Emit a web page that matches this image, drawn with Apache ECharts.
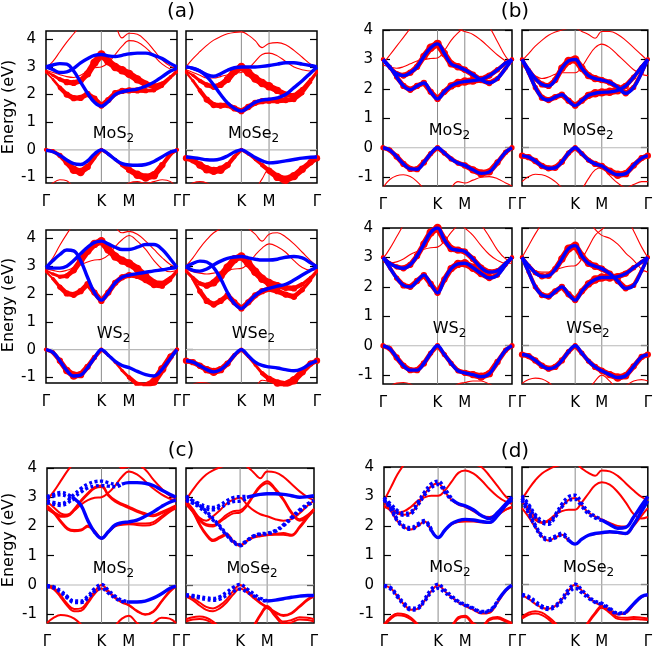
<!DOCTYPE html>
<html>
<head>
<meta charset="utf-8">
<title>TMD band structures</title>
<style>
  html, body, #chart { width: 655px; height: 650px; margin: 0; padding: 0; background: #fff; }
</style>
</head>
<body>
<div id="chart"></div>
<script src="https://cdn.jsdelivr.net/npm/echarts@6/dist/echarts.min.js"></script>
<script>
var _ = null;
// k path G-K-M-G, in units of |GK|
var kpts = [0, 0.125, 0.25, 0.375, 0.5, 0.625, 0.75, 0.875, 1, 1.125, 1.25, 1.375, 1.5, 1.65, 1.8, 1.95, 2.1, 2.25, 2.366];
var symPos = [0, 1, 1.5, 2.366];
var symNames = ['Γ', 'K', 'M', 'Γ'];
var eTicks = [-1, 0, 1, 2, 3, 4];

// ---- (a) ----
var aMoS2_blue = [
  [3.0, 3.07, 3.12, 3.1, 2.85, 2.45, 2.05, 1.72, 1.58, 1.75, 2.0, 2.1, 2.15, 2.2, 2.3, 2.45, 2.65, 2.85, 2.95],
  [3.0, 2.9, 2.8, 2.82, 2.95, 3.15, 3.3, 3.42, 3.45, 3.4, 3.38, 3.42, 3.47, 3.5, 3.5, 3.42, 3.3, 3.12, 3.0],
  [-0.02, -0.07, -0.2, -0.37, -0.5, -0.53, -0.4, -0.15, 0, -0.15, -0.35, -0.5, -0.55, -0.56, -0.53, -0.42, -0.25, -0.08, -0.02]
];
var aMoS2_red = [
  [2.95, 3.2, 3.55, 3.9, 4.2, 4.5, 4.7, 4.8, 4.8, 4.7, 4.5, 4.05, 4.22, 4.18, 3.95, 3.6, 3.25, 3.02, 2.95],
  [2.88, 2.8, 2.72, 2.65, 2.62, 2.7, 2.85, 2.97, 3.0, 3.15, 3.45, 3.75, 3.95, 3.9, 3.7, 3.4, 3.1, 2.92, 2.88],
  [-1.45, -1.2, -1.08, -1.12, -1.35, -1.6, -1.8, -1.9, -2.0, -1.9, -1.6, -1.35, -1.2, -1.15, -1.22, -1.15, -1.08, -1.15, -1.4]
];
var aMoS2_dot = [
  [2.8, 2.55, 2.25, 2.0, 1.87, 1.88, 2.02, 1.85, 1.6, 1.8, 2.05, 2.13, 2.15, 2.15, 2.14, 2.15, 2.3, 2.6, 2.8],
  [2.85, 2.7, 2.55, 2.45, 2.42, 2.5, 2.75, 3.15, 3.45, 3.2, 3.0, 2.88, 2.75, 2.55, 2.38, 2.3, 2.4, 2.65, 2.88],
  [0, -0.05, -0.2, -0.45, -0.72, -0.8, -0.62, -0.28, 0, -0.15, -0.35, -0.55, -0.72, -0.9, -1.0, -0.92, -0.55, -0.15, 0]
];
var aMoS2_w = [
  [1, 1, 2, 3, 3, 3, 3, 3, 3, 3, 3, 3, 3, 3, 2.5, 2, 1.5, 1, 1],
  [1, 1.5, 2, 3, 3, 3, 3.5, 4, 4, 4, 4, 4, 4, 4, 3.5, 3, 2, 1.5, 1],
  [2, 2, 2.5, 3, 4, 4, 3, 2, 2, 1.5, 1.5, 2, 3, 4, 4, 4, 3, 2, 2]
];

var aMoSe2_blue = [
  [3.0, 2.95, 2.85, 2.65, 2.35, 2.0, 1.7, 1.5, 1.4, 1.55, 1.72, 1.8, 1.83, 1.88, 2.0, 2.25, 2.5, 2.78, 3.0],
  [3.0, 2.95, 2.85, 2.72, 2.66, 2.75, 2.88, 2.97, 3.0, 3.0, 3.0, 3.02, 3.05, 3.1, 3.15, 3.15, 3.1, 3.05, 3.0],
  [-0.26, -0.28, -0.32, -0.36, -0.37, -0.33, -0.22, -0.08, 0, -0.12, -0.28, -0.4, -0.47, -0.45, -0.4, -0.35, -0.3, -0.27, -0.26]
];
var aMoSe2_red = [
  [3.0, 3.3, 3.55, 3.78, 3.97, 4.1, 4.2, 4.25, 4.27, 4.15, 3.95, 3.7, 3.85, 3.88, 3.8, 3.6, 3.35, 3.1, 3.0],
  [2.9, 2.8, 2.7, 2.6, 2.6, 2.65, 2.72, 2.78, 2.8, 2.95, 3.2, 3.45, 3.5, 3.4, 3.2, 3.0, 2.9, 2.85, 2.85],
  [-1.35, -1.2, -1.15, -1.2, -1.35, -1.6, -1.85, -2.0, -2.0, -1.8, -1.45, -1.05, -0.7, -1.0, -1.3, -1.4, -1.3, -1.25, -1.3]
];
var aMoSe2_dot = [
  [2.8, 2.5, 2.15, 1.82, 1.62, 1.6, 1.62, 1.5, 1.4, 1.55, 1.7, 1.76, 1.78, 1.78, 1.8, 1.82, 2.05, 2.45, 2.8],
  [2.85, 2.7, 2.5, 2.35, 2.28, 2.35, 2.55, 2.85, 3.0, 2.8, 2.58, 2.42, 2.3, 2.15, 2.0, 1.95, 2.2, 2.55, 2.85],
  [-0.3, -0.38, -0.55, -0.7, -0.76, -0.72, -0.55, -0.25, 0, -0.15, -0.35, -0.55, -0.75, -0.98, -1.08, -0.95, -0.7, -0.45, -0.3]
];
var aMoSe2_w = [
  [1, 1.5, 2, 3, 3, 3, 3, 3, 3, 3, 3, 3, 3, 3, 3, 2.5, 2, 1.5, 1],
  [1, 1.5, 2, 2.5, 3, 3, 3.5, 4, 4, 4, 4, 4, 4, 3.5, 3, 3, 2, 1.5, 1],
  [3, 3, 3.5, 4, 4, 4, 3, 2, 2, 1.5, 1.5, 2, 3, 4, 4, 4, 3.5, 3, 3]
];

var aWS2_blue = [
  [2.95, 3.2, 3.42, 3.58, 3.55, 3.2, 2.6, 2.05, 1.78, 2.05, 2.4, 2.6, 2.68, 2.73, 2.78, 2.83, 2.87, 2.92, 2.95],
  [2.95, 2.93, 2.93, 3.0, 3.2, 3.45, 3.68, 3.85, 3.9, 3.8, 3.68, 3.6, 3.6, 3.68, 3.78, 3.78, 3.6, 3.25, 2.95],
  [0, -0.1, -0.4, -0.75, -0.95, -0.92, -0.65, -0.3, 0, -0.2, -0.42, -0.57, -0.65, -0.78, -0.9, -0.95, -0.7, -0.3, 0]
];
var aWS2_red = [
  [2.95, 3.3, 3.75, 4.15, 4.5, 4.7, 4.8, 4.8, 4.75, 4.6, 4.4, 4.2, 4.25, 4.15, 3.9, 3.6, 3.3, 3.05, 2.95],
  [2.9, 2.85, 2.8, 2.85, 2.95, 3.05, 3.15, 3.22, 3.25, 3.4, 3.7, 3.95, 4.1, 3.9, 3.6, 3.2, 2.9, 2.8, 2.85]
];
var aWS2_dot = [
  [2.8, 2.55, 2.25, 2.02, 1.97, 2.1, 2.35, 2.05, 1.75, 2.05, 2.4, 2.6, 2.68, 2.65, 2.5, 2.32, 2.28, 2.5, 2.8],
  [2.85, 2.72, 2.62, 2.65, 2.85, 3.2, 3.55, 3.8, 3.9, 3.6, 3.35, 3.2, 3.1, 2.9, 2.65, 2.42, 2.4, 2.6, 2.85],
  [0, -0.1, -0.4, -0.75, -0.93, -0.9, -0.62, -0.28, 0, -0.2, -0.45, -0.75, -1.0, -1.25, -1.3, -1.15, -0.7, -0.25, 0]
];
var aWS2_w = [
  [1, 1.5, 2.5, 3, 3, 3, 3, 3, 3, 3, 3, 3, 3, 3, 3, 3, 2.5, 1.5, 1],
  [1, 1.5, 2, 2.5, 3, 3.5, 4, 4, 4, 4, 4, 4, 4, 4, 3.5, 3, 2, 1.5, 1],
  [2, 2, 3, 3.5, 4, 3.5, 3, 2.5, 2, 1.5, 1.5, 1.5, 2, 3, 3.5, 4, 4, 3, 2]
];

var aWSe2_blue = [
  [2.98, 3.1, 3.18, 3.15, 2.95, 2.55, 2.05, 1.65, 1.48, 1.7, 1.95, 2.12, 2.2, 2.28, 2.35, 2.5, 2.68, 2.85, 2.98],
  [2.98, 2.85, 2.82, 2.9, 3.05, 3.18, 3.28, 3.33, 3.35, 3.3, 3.25, 3.22, 3.22, 3.25, 3.32, 3.35, 3.3, 3.12, 2.98],
  [-0.4, -0.45, -0.58, -0.72, -0.8, -0.72, -0.5, -0.2, 0, -0.22, -0.45, -0.57, -0.62, -0.66, -0.72, -0.76, -0.68, -0.5, -0.4]
];
var aWSe2_red = [
  [3.0, 3.3, 3.65, 3.95, 4.2, 4.35, 4.45, 4.5, 4.5, 4.35, 4.15, 3.9, 4.15, 4.2, 4.05, 3.8, 3.5, 3.2, 3.0],
  [2.9, 2.8, 2.75, 2.72, 2.75, 2.8, 2.85, 2.9, 2.92, 3.1, 3.4, 3.65, 3.8, 3.7, 3.5, 3.2, 2.95, 2.85, 2.88],
  [-1.4, -1.25, -1.18, -1.2, -1.3, -1.5, -1.7, -1.85, -1.9, -1.7, -1.4, -1.1, -1.15, -1.25, -1.4, -1.35, -1.3, -1.3, -1.35]
];
var aWSe2_dot = [
  [2.8, 2.55, 2.1, 1.75, 1.62, 1.75, 1.95, 1.7, 1.48, 1.7, 1.95, 2.1, 2.18, 2.1, 1.98, 1.9, 2.15, 2.5, 2.8],
  [2.85, 2.6, 2.38, 2.3, 2.4, 2.65, 2.95, 3.25, 3.35, 3.1, 2.8, 2.55, 2.4, 2.3, 2.22, 2.2, 2.35, 2.6, 2.85],
  [-0.4, -0.45, -0.58, -0.72, -0.8, -0.72, -0.5, -0.2, 0, -0.25, -0.55, -0.85, -1.05, -1.2, -1.25, -1.1, -0.8, -0.5, -0.4]
];
var aWSe2_w = [
  [1, 1.5, 2.5, 3, 3, 3, 3, 3, 3, 3, 3, 3, 3, 3, 3, 3, 2.5, 1.5, 1],
  [1, 1.5, 2, 3, 3.5, 4, 4, 4, 4, 4, 4, 4, 4, 3.5, 3, 3, 2, 1.5, 1],
  [3, 3, 3, 3.5, 4, 3.5, 3, 2, 2, 1.5, 1.5, 2, 3, 3.5, 4, 4, 3.5, 3, 3]
];

// ---- (b) ----
var bMoS2_blue = [
  [3.0, 2.75, 2.4, 2.1, 1.97, 2.1, 2.2, 1.9, 1.66, 1.9, 2.1, 2.2, 2.25, 2.28, 2.32, 2.45, 2.65, 2.88, 3.0],
  [3.0, 2.72, 2.52, 2.45, 2.55, 2.75, 3.1, 3.4, 3.53, 3.2, 2.85, 2.75, 2.65, 2.48, 2.3, 2.2, 2.35, 2.7, 3.0],
  [0, -0.08, -0.3, -0.55, -0.72, -0.73, -0.5, -0.2, 0, -0.18, -0.38, -0.52, -0.6, -0.75, -0.87, -0.82, -0.5, -0.15, 0]
];
var bMoS2_red = [
  [2.85, 3.15, 3.45, 3.75, 4.05, 4.3, 4.5, 4.6, 4.6, 4.5, 4.3, 4.05, 3.95, 3.85, 3.65, 3.4, 3.15, 2.95, 2.85],
  [2.8, 2.75, 2.7, 2.75, 2.85, 2.95, 3.0, 3.03, 3.05, 3.3, 3.65, 3.9, 4.1, 4.3, 4.4, 4.1, 3.6, 3.1, 2.85],
  [-1.35, -1.08, -0.95, -0.92, -0.98, -1.15, -1.4, -1.7, -1.8, -1.6, -1.35, -1.15, -1.2, -1.1, -1.0, -0.98, -1.05, -1.2, -1.3]
];
var bMoS2_w = [
  [2, 2, 2.5, 3, 3, 3, 3, 3, 3, 3, 3.5, 4, 4, 4, 3.5, 3, 2.5, 2, 2],
  [2, 2, 2.5, 3, 3, 3, 3.5, 4, 4, 3.5, 3.5, 3.5, 3, 3, 3, 3, 2.5, 2, 2],
  [2.5, 2.5, 3, 3, 3, 3, 3, 2.5, 2.5, 2.5, 2.5, 2.5, 3, 3.5, 4, 3.5, 3, 2.5, 2.5]
];

var bMoSe2_blue = [
  [3.0, 2.55, 2.05, 1.7, 1.62, 1.72, 1.8, 1.6, 1.43, 1.6, 1.78, 1.85, 1.88, 1.9, 1.95, 2.1, 2.4, 2.75, 3.0],
  [3.0, 2.65, 2.35, 2.15, 2.1, 2.3, 2.7, 2.95, 3.0, 2.7, 2.45, 2.35, 2.3, 2.22, 2.05, 1.85, 2.05, 2.55, 3.0],
  [-0.27, -0.32, -0.45, -0.62, -0.7, -0.68, -0.48, -0.18, 0, -0.2, -0.42, -0.55, -0.62, -0.8, -0.92, -0.88, -0.6, -0.35, -0.27]
];
var bMoSe2_red = [
  [2.95, 3.2, 3.45, 3.65, 3.82, 3.93, 4.0, 4.05, 4.05, 3.95, 3.85, 3.72, 3.95, 3.95, 3.85, 3.65, 3.4, 3.15, 2.95],
  [2.8, 2.6, 2.45, 2.35, 2.4, 2.5, 2.55, 2.55, 2.55, 2.75, 3.1, 3.4, 3.52, 3.4, 3.15, 2.9, 2.65, 2.5, 2.45],
  [-1.15, -0.98, -0.9, -0.92, -1.0, -1.15, -1.35, -1.5, -1.6, -1.4, -1.05, -0.75, -0.68, -0.95, -1.2, -1.35, -1.25, -1.15, -1.15]
];
var bMoSe2_w = [
  [2, 2, 2.5, 3, 3, 3, 3, 3, 3, 3, 3.5, 4, 4, 4, 4, 3, 2.5, 2, 2],
  [2, 2, 2.5, 3, 3, 3, 3.5, 4, 4, 3.5, 3.5, 3.5, 3, 3, 3, 3, 2.5, 2, 2],
  [3, 3, 3, 3, 3, 3, 3, 2.5, 2.5, 2.5, 2.5, 3, 3, 3.5, 4, 3.5, 3, 3, 3]
];

var bWS2_blue = [
  [3.0, 2.65, 2.3, 2.05, 2.0, 2.2, 2.4, 2.1, 1.8, 2.25, 2.62, 2.78, 2.8, 2.65, 2.45, 2.3, 2.4, 2.75, 3.0],
  [3.0, 2.8, 2.68, 2.63, 2.75, 3.05, 3.45, 3.85, 4.0, 3.6, 3.3, 3.25, 3.2, 2.95, 2.65, 2.5, 2.55, 2.8, 3.0],
  [0, -0.1, -0.4, -0.68, -0.83, -0.83, -0.6, -0.25, 0, -0.3, -0.6, -0.85, -0.92, -0.98, -1.05, -0.95, -0.55, -0.15, 0]
];
var bWS2_red = [
  [2.95, 3.3, 3.7, 4.1, 4.45, 4.7, 4.8, 4.85, 4.85, 4.7, 4.45, 4.2, 4.0, 3.75, 3.4, 3.1, 2.9, 2.8, 2.8],
  [2.85, 2.82, 2.85, 2.95, 3.1, 3.2, 3.28, 3.33, 3.35, 3.55, 3.85, 4.1, 4.3, 4.35, 4.1, 3.7, 3.25, 2.95, 2.85],
  [-1.6, -1.4, -1.27, -1.25, -1.3, -1.45, -1.6, -1.7, -1.7, -1.6, -1.45, -1.3, -1.25, -1.2, -1.2, -1.3, -1.4, -1.4, -1.4]
];
var bWS2_w = [
  [2, 2, 2.5, 3, 3, 3, 3, 3, 3, 3, 3.5, 4, 4, 4, 3.5, 3, 2.5, 2, 2],
  [2, 2, 2.5, 3, 3, 3, 3.5, 4, 4, 3.5, 3.5, 3.5, 3, 3, 3, 3, 2.5, 2, 2],
  [2.5, 2.5, 3, 3, 3, 3, 3, 2.5, 2.5, 2.5, 2.5, 2.5, 3, 3.5, 4, 3.5, 3, 2.5, 2.5]
];

var bWSe2_blue = [
  [3.0, 2.5, 2.0, 1.72, 1.67, 1.85, 2.0, 1.75, 1.55, 1.85, 2.1, 2.25, 2.32, 2.32, 2.35, 2.45, 2.65, 2.85, 3.0],
  [3.0, 2.72, 2.48, 2.36, 2.38, 2.6, 2.95, 3.3, 3.4, 3.05, 2.8, 2.7, 2.62, 2.45, 2.2, 1.95, 2.05, 2.55, 3.0],
  [-0.3, -0.35, -0.5, -0.68, -0.78, -0.72, -0.5, -0.2, 0, -0.25, -0.52, -0.72, -0.85, -0.98, -1.08, -1.02, -0.7, -0.38, -0.3]
];
var bWSe2_red = [
  [3.0, 3.4, 3.8, 4.15, 4.45, 4.7, 4.85, 4.9, 4.9, 4.7, 4.3, 3.95, 3.75, 3.65, 3.45, 3.15, 2.9, 2.6, 2.5],
  [2.85, 2.7, 2.55, 2.5, 2.5, 2.58, 2.65, 2.7, 2.72, 2.95, 3.35, 3.75, 3.95, 4.2, 4.5, 4.4, 3.9, 3.35, 3.0],
  [-1.28, -1.15, -1.1, -1.13, -1.25, -1.45, -1.7, -1.9, -2.0, -1.8, -1.5, -1.2, -1.0, -1.2, -1.45, -1.35, -1.2, -1.15, -1.2]
];
var bWSe2_w = [
  [2, 2, 2.5, 3, 3, 3, 3, 3, 3, 3, 3.5, 4, 4, 4, 3.5, 3, 2.5, 2, 2],
  [2, 2, 2.5, 3, 3, 3, 3.5, 4, 4, 3.5, 3.5, 3.5, 3, 3, 3, 3, 2.5, 2, 2],
  [3, 3, 3, 3, 3, 3, 3, 2.5, 2.5, 2.5, 2.5, 3, 3, 3.5, 4, 3.5, 3, 3, 3]
];

// ---- (c) ----
var cMoS2_solid = [
  [_, _, _, _, 2.95, 2.72, 2.2, 1.8, 1.6, 1.82, 2.05, 2.13, 2.16, 2.22, 2.35, 2.5, 2.68, 2.83, 2.9],
  [_, _, _, _, _, _, _, _, _, _, _, 3.45, 3.5, 3.5, 3.48, 3.4, 3.25, 3.1, 3.0],
  [_, _, _, _, _, _, _, _, _, _, _, _, -0.58, -0.58, -0.55, -0.45, -0.3, -0.12, -0.04]
];
var cMoS2_dash = [
  [3.02, 3.1, 3.16, 3.1, 2.95, _, _, _, _, _, _, _, _, _, _, _, _, _, _],
  [2.96, 3.04, 3.08, 3.02, 2.9, _, _, _, _, _, _, _, _, _, _, _, _, _, _],
  [2.88, 2.82, 2.78, 2.88, 3.1, 3.3, 3.45, 3.53, 3.55, 3.5, 3.45, 3.47, _, _, _, _, _, _, _],
  [2.82, 2.76, 2.72, 2.8, 3.0, 3.18, 3.32, 3.38, 3.4, 3.38, 3.36, 3.43, _, _, _, _, _, _, _],
  [-0.02, -0.06, -0.2, -0.4, -0.55, -0.55, -0.38, -0.12, 0.02, -0.18, -0.38, -0.52, -0.57, _, _, _, _, _, _],
  [-0.06, -0.1, -0.25, -0.45, -0.6, -0.6, -0.45, -0.22, -0.12, -0.28, -0.45, -0.56, -0.58, _, _, _, _, _, _]
];
var cMoS2_red = [
  [2.72, 2.5, 2.2, 1.95, 1.88, 1.9, 2.03, 1.85, 1.6, 1.82, 2.02, 2.08, 2.1, 2.1, 2.1, 2.15, 2.35, 2.55, 2.68],
  [2.68, 2.45, 2.15, 1.9, 1.84, 1.86, 1.99, 1.82, 1.58, 1.8, 2.0, 2.06, 2.08, 2.05, 2.03, 2.08, 2.28, 2.5, 2.62],
  [2.85, 2.65, 2.45, 2.4, 2.55, 2.75, 2.9, 2.98, 3.0, 3.15, 3.4, 3.7, 3.88, 3.78, 3.55, 3.3, 3.1, 2.95, 2.85],
  [2.65, 2.5, 2.38, 2.4, 2.6, 2.9, 3.15, 3.35, 3.4, 3.1, 2.9, 2.78, 2.68, 2.55, 2.45, 2.4, 2.5, 2.62, 2.72],
  [2.6, 2.45, 2.33, 2.35, 2.55, 2.85, 3.1, 3.3, 3.35, 3.05, 2.85, 2.73, 2.63, 2.5, 2.4, 2.35, 2.45, 2.58, 2.66],
  [2.9, 3.2, 3.55, 3.9, 4.2, 4.5, 4.7, 4.8, 4.8, 4.6, 4.3, 4.0, 4.05, 4.1, 3.95, 3.6, 3.3, 3.05, 2.95],
  [-0.02, -0.1, -0.35, -0.65, -0.82, -0.8, -0.55, -0.22, 0, -0.2, -0.42, -0.58, -0.68, -0.88, -1.0, -0.9, -0.55, -0.2, -0.02],
  [-0.06, -0.15, -0.42, -0.72, -0.9, -0.88, -0.62, -0.3, -0.12, -0.25, -0.45, -0.6, -0.7, -0.9, -1.02, -0.92, -0.58, -0.24, -0.06],
  [-1.3, -1.12, -1.03, -1.05, -1.15, -1.35, -1.6, -1.8, -1.9, -1.7, -1.4, -1.15, -1.05, -1.3, -1.45, -1.3, -1.12, -1.15, -1.3]
];

var cMoSe2_solid = [
  [_, _, _, _, _, _, _, _, _, 3.0, 3.05, 3.1, 3.12, 3.12, 3.1, 3.05, 3.0, 3.02, 3.05],
  [_, _, _, _, _, _, _, _, _, _, _, _, -0.55, -0.52, -0.47, -0.42, -0.38, -0.36, -0.36]
];
var cMoSe2_dash = [
  [3.05, 2.88, 2.72, 2.52, 2.27, 2.02, 1.74, 1.5, 1.38, 1.53, 1.68, 1.75, 1.77, 1.86, 2.06, 2.32, 2.57, 2.78, 2.9],
  [2.92, 2.8, 2.65, 2.46, 2.22, 1.97, 1.7, 1.46, 1.34, 1.5, 1.66, 1.73, 1.75, 1.83, 2.02, 2.27, 2.52, 2.72, 2.85],
  [2.95, 2.88, 2.78, 2.68, 2.65, 2.73, 2.88, 2.99, 3.02, 3.03, _, _, _, _, _, _, _, _, _],
  [2.88, 2.8, 2.7, 2.6, 2.57, 2.64, 2.76, 2.85, 2.87, 2.95, _, _, _, _, _, _, _, _, _],
  [-0.33, -0.36, -0.4, -0.44, -0.46, -0.4, -0.25, -0.08, 0.02, -0.13, -0.3, -0.45, -0.54, _, _, _, _, _, _],
  [-0.37, -0.4, -0.45, -0.5, -0.52, -0.48, -0.36, -0.22, -0.14, -0.24, -0.37, -0.5, -0.56, _, _, _, _, _, _]
];
var cMoSe2_red = [
  [2.85, 2.55, 2.1, 1.75, 1.55, 1.65, 1.75, 1.5, 1.37, 1.52, 1.65, 1.7, 1.72, 1.75, 1.78, 1.72, 2.0, 2.35, 2.6],
  [2.8, 2.5, 2.05, 1.7, 1.5, 1.6, 1.7, 1.46, 1.34, 1.5, 1.62, 1.67, 1.7, 1.72, 1.72, 1.68, 1.95, 2.3, 2.55],
  [2.8, 2.55, 2.25, 2.08, 2.05, 2.2, 2.4, 2.52, 2.55, 2.75, 3.1, 3.4, 3.55, 3.3, 2.95, 2.5, 2.25, 2.4, 2.6],
  [2.75, 2.5, 2.2, 2.03, 2.0, 2.15, 2.32, 2.45, 2.48, 2.7, 3.05, 3.35, 3.48, 3.25, 2.9, 2.45, 2.2, 2.35, 2.55],
  [2.88, 2.6, 2.3, 2.2, 2.35, 2.55, 2.78, 2.92, 2.98, 2.75, 2.55, 2.42, 2.35, 2.25, 2.2, 2.25, 2.45, 2.72, 2.88],
  [2.9, 3.25, 3.55, 3.78, 3.92, 4.02, 4.1, 4.15, 4.15, 4.05, 3.85, 3.65, 3.88, 3.85, 3.7, 3.45, 3.2, 3.0, 2.9],
  [-0.35, -0.45, -0.6, -0.75, -0.8, -0.7, -0.5, -0.2, 0, -0.18, -0.4, -0.6, -0.75, -0.92, -1.03, -0.95, -0.72, -0.48, -0.36],
  [-0.4, -0.52, -0.7, -0.85, -0.9, -0.8, -0.6, -0.32, -0.12, -0.25, -0.45, -0.63, -0.78, -0.95, -1.06, -0.98, -0.75, -0.52, -0.4],
  [-1.17, -1.1, -1.08, -1.12, -1.25, -1.45, -1.7, -1.9, -2.0, -1.8, -1.4, -1.0, -0.72, -1.0, -1.25, -1.2, -1.1, -1.12, -1.17],
  [-1.25, -1.18, -1.16, -1.2, -1.32, -1.52, -1.78, -1.95, -2.05, -1.85, -1.45, -1.05, -0.78, -1.08, -1.32, -1.28, -1.18, -1.2, -1.25]
];

// ---- (d) ----
var dMoS2_solid = [
  [_, _, _, _, _, _, _, 1.85, 1.6, 1.85, 2.08, 2.18, 2.22, 2.2, 2.15, 2.12, 2.35, 2.7, 2.88],
  [_, _, _, _, _, _, _, _, _, _, 2.9, 2.75, 2.68, 2.55, 2.35, 2.25, 2.45, 2.75, 2.98],
  [_, _, _, _, _, _, _, _, _, _, _, _, _, _, _, _, -0.55, -0.18, -0.02]
];
var dMoS2_dash = [
  [2.97, 2.62, 2.22, 2.0, 1.94, 2.07, 2.18, 1.88, _, _, _, _, _, _, _, _, _, _, _],
  [2.9, 2.56, 2.16, 1.94, 1.88, 2.01, 2.12, 1.83, _, _, _, _, _, _, _, _, _, _, _],
  [2.95, 2.74, 2.52, 2.43, 2.48, 2.8, 3.15, 3.43, 3.52, 3.25, 2.93, _, _, _, _, _, _, _, _],
  [2.86, 2.66, 2.44, 2.36, 2.41, 2.7, 3.04, 3.3, 3.4, 3.14, 2.86, _, _, _, _, _, _, _, _],
  [-0.02, -0.1, -0.36, -0.63, -0.8, -0.76, -0.48, -0.15, 0.02, -0.18, -0.38, -0.56, -0.67, -0.79, -0.91, -0.87, -0.54, _, _],
  [-0.05, -0.15, -0.42, -0.7, -0.86, -0.82, -0.56, -0.26, -0.12, -0.27, -0.44, -0.6, -0.7, -0.82, -0.94, -0.9, -0.58, _, _]
];
var dMoS2_red = [
  [2.7, 2.5, 2.15, 1.95, 1.88, 2.0, 2.15, 1.85, 1.6, 1.85, 2.05, 2.13, 2.15, 2.15, 2.12, 2.1, 2.35, 2.55, 2.65],
  [2.8, 2.6, 2.45, 2.5, 2.65, 2.85, 2.97, 3.02, 3.02, 3.2, 3.5, 3.8, 3.88, 3.78, 3.55, 3.25, 3.0, 2.82, 2.75],
  [2.65, 2.55, 2.42, 2.38, 2.45, 2.72, 3.08, 3.35, 3.45, 3.15, 2.88, 2.72, 2.65, 2.5, 2.35, 2.3, 2.4, 2.55, 2.62],
  [2.85, 3.3, 3.75, 4.1, 4.4, 4.6, 4.7, 4.75, 4.75, 4.65, 4.45, 4.3, 4.2, 4.1, 4.0, 3.7, 3.35, 3.0, 2.85],
  [-0.03, -0.12, -0.4, -0.68, -0.85, -0.82, -0.55, -0.22, -0.02, -0.22, -0.42, -0.6, -0.72, -0.85, -0.98, -0.95, -0.6, -0.22, -0.03],
  [-1.35, -1.1, -0.98, -1.0, -1.12, -1.35, -1.6, -1.8, -1.9, -1.7, -1.4, -1.1, -1.05, -1.3, -1.4, -1.15, -1.1, -1.2, -1.3],
  [-1.4, -1.16, -1.04, -1.06, -1.18, -1.4, -1.65, -1.85, -1.95, -1.75, -1.45, -1.15, -1.1, -1.35, -1.45, -1.2, -1.15, -1.25, -1.35]
];

var dMoSe2_solid = [
  [_, _, _, _, _, _, _, 1.52, 1.38, 1.55, 1.68, 1.74, 1.77, 1.8, 1.78, 1.74, 2.05, 2.5, 2.85],
  [_, _, _, _, _, _, _, _, _, _, _, _, 2.2, 2.05, 1.92, 1.95, 2.3, 2.7, 3.0],
  [_, _, _, _, _, _, _, _, _, _, _, _, _, _, _, -0.95, -0.65, -0.4, -0.34]
];
var dMoSe2_dash = [
  [2.93, 2.48, 2.03, 1.68, 1.56, 1.65, 1.75, 1.55, _, _, _, _, _, _, _, _, _, _, _],
  [2.86, 2.42, 1.97, 1.62, 1.5, 1.59, 1.69, 1.49, _, _, _, _, _, _, _, _, _, _, _],
  [3.03, 2.73, 2.38, 2.18, 2.13, 2.38, 2.74, 2.99, 3.04, 2.76, 2.48, 2.33, 2.22, _, _, _, _, _, _],
  [2.95, 2.65, 2.3, 2.1, 2.05, 2.3, 2.64, 2.86, 2.9, 2.66, 2.4, 2.27, 2.18, _, _, _, _, _, _],
  [-0.33, -0.4, -0.56, -0.72, -0.78, -0.7, -0.47, -0.16, 0.02, -0.18, -0.4, -0.56, -0.63, -0.8, -0.96, -0.94, _, _, _],
  [-0.36, -0.45, -0.62, -0.78, -0.84, -0.76, -0.56, -0.28, -0.12, -0.27, -0.46, -0.6, -0.67, -0.84, -0.99, -0.96, _, _, _]
];
var dMoSe2_red = [
  [2.6, 2.3, 1.95, 1.65, 1.5, 1.6, 1.7, 1.5, 1.38, 1.55, 1.68, 1.72, 1.75, 1.78, 1.76, 1.72, 2.0, 2.35, 2.6],
  [2.85, 2.5, 2.2, 2.1, 2.2, 2.38, 2.5, 2.55, 2.55, 2.8, 3.1, 3.38, 3.48, 3.4, 3.15, 2.8, 2.4, 2.25, 2.3],
  [2.8, 2.6, 2.3, 2.12, 2.15, 2.35, 2.65, 2.88, 2.95, 2.7, 2.45, 2.32, 2.22, 2.1, 2.0, 1.98, 2.3, 2.6, 2.8],
  [2.9, 3.25, 3.55, 3.78, 3.92, 4.02, 4.08, 4.12, 4.12, 3.95, 3.8, 3.7, 3.88, 3.85, 3.7, 3.45, 3.2, 2.98, 2.88],
  [-0.36, -0.48, -0.65, -0.78, -0.82, -0.72, -0.5, -0.2, 0, -0.2, -0.42, -0.6, -0.72, -0.85, -1.0, -0.97, -0.68, -0.42, -0.36],
  [-1.1, -0.95, -0.9, -0.95, -1.1, -1.3, -1.55, -1.75, -1.85, -1.6, -1.25, -0.95, -0.72, -0.9, -1.1, -1.12, -1.1, -1.12, -1.15],
  [-1.15, -1.02, -0.98, -1.03, -1.18, -1.38, -1.62, -1.8, -1.9, -1.65, -1.3, -1.0, -0.78, -0.96, -1.16, -1.18, -1.16, -1.18, -1.2]
];

var FONT = 'DejaVu Sans';
var RED = '#ff0000', BLUE = '#0000ff';

// layout of the 12 frames: [left, top, width, height]
var panels = [
  {box: [46, 31, 131, 152], yr: [-1.2, 4.3], name: 'MoS', ylab: true, red: aMoS2_red, dot: aMoS2_dot, w: aMoS2_w, blue: aMoS2_blue},
  {box: [186, 31, 131, 152], yr: [-1.2, 4.3], name: 'MoSe', red: aMoSe2_red, dot: aMoSe2_dot, w: aMoSe2_w, blue: aMoSe2_blue},
  {box: [46, 230, 131, 153], yr: [-1.2, 4.3], name: 'WS', ylab: true, red: aWS2_red, dot: aWS2_dot, w: aWS2_w, blue: aWS2_blue},
  {box: [186, 230, 131, 153], yr: [-1.2, 4.3], name: 'WSe', red: aWSe2_red, dot: aWSe2_dot, w: aWSe2_w, blue: aWSe2_blue},
  {box: [383, 30, 129, 156], yr: [-1.3, 4.0], name: 'MoS', ylab: true, red: bMoS2_red, dot: bMoS2_blue, w: bMoS2_w, blue: bMoS2_blue},
  {box: [522, 30, 128, 156], yr: [-1.3, 4.0], name: 'MoSe', red: bMoSe2_red, dot: bMoSe2_blue, w: bMoSe2_w, blue: bMoSe2_blue},
  {box: [383, 228, 129, 156], yr: [-1.3, 4.0], name: 'WS', ylab: true, red: bWS2_red, dot: bWS2_blue, w: bWS2_w, blue: bWS2_blue},
  {box: [522, 228, 128, 156], yr: [-1.3, 4.0], name: 'WSe', red: bWSe2_red, dot: bWSe2_blue, w: bWSe2_w, blue: bWSe2_blue},
  {box: [47, 468, 129, 157], yr: [-1.3, 4.0], name: 'MoS', ylab: true, red: cMoS2_red, blue: cMoS2_solid, dash: cMoS2_dash, thick: true},
  {box: [186, 468, 128, 157], yr: [-1.3, 4.0], name: 'MoSe', red: cMoSe2_red, blue: cMoSe2_solid, dash: cMoSe2_dash, thick: true},
  {box: [384, 467, 128, 157], yr: [-1.3, 4.0], name: 'MoS', ylab: true, red: dMoS2_red, blue: dMoS2_solid, dash: dMoS2_dash, thick: true},
  {box: [522, 467, 129, 157], yr: [-1.3, 4.0], name: 'MoSe', red: dMoSe2_red, blue: dMoSe2_solid, dash: dMoSe2_dash, thick: true}
];

function pts(vals) {
  var out = [];
  vals.forEach(function (v, i) { if (v !== null) out.push([kpts[i], v]); });
  return out;
}

var meas = document.createElement('canvas').getContext('2d');
function textW(str, size) {
  meas.font = size + 'px "' + FONT + '"';
  return meas.measureText(str).width;
}
function txt(str, x, y, size, align, rot) {
  return {
    type: 'text', x: x, y: y, rotation: rot || 0, silent: true, z: 20,
    style: {text: str, fill: '#000', font: size + 'px "' + FONT + '"',
      align: align || 'center', verticalAlign: 'middle', textAlign: align || 'center', textVerticalAlign: 'middle'}
  };
}

var grids = [], xAxes = [], yAxes = [], series = [], graphics = [];

panels.forEach(function (p, gi) {
  var b = p.box;
  grids.push({left: b[0], top: b[1], width: b[2], height: b[3], show: true,
    borderColor: '#000', borderWidth: 1.5, backgroundColor: 'transparent'});
  xAxes.push({
    gridIndex: gi, type: 'value', min: 0, max: symPos[3],
    axisLine: {show: false}, axisTick: {show: false}, splitLine: {show: false},
    axisLabel: {
      customValues: symPos, color: '#000', fontSize: 15, fontFamily: FONT, margin: 12,
      formatter: function (v) {
        var best = 0;
        symPos.forEach(function (s, i) { if (Math.abs(s - v) < Math.abs(symPos[best] - v)) best = i; });
        return symNames[best];
      }
    }
  });
  [['left', !!p.ylab], ['right', false]].forEach(function (side) {
    yAxes.push({
      gridIndex: gi, type: 'value', min: p.yr[0], max: p.yr[1], position: side[0],
      axisLine: {show: false}, splitLine: {show: false},
      axisTick: {show: true, inside: true, length: 7, customValues: eTicks, lineStyle: {color: '#000', width: 1.2}},
      axisLabel: {show: side[1], customValues: eTicks, color: '#000', fontSize: 15, fontFamily: FONT, margin: 10}
    });
  });
  var base = {xAxisIndex: gi, yAxisIndex: gi * 2, silent: true, animation: false};

  // guide lines at K, M (darker) and E = 0 (lighter)
  [symPos[1], symPos[2]].forEach(function (x) {
    series.push(Object.assign({type: 'line', data: [[x, p.yr[0]], [x, p.yr[1]]], symbol: 'none',
      lineStyle: {color: '#8c8c8c', width: 1}, z: 1}, base));
  });
  series.push(Object.assign({type: 'line', data: [[0, 0], [symPos[3], 0]], symbol: 'none',
    lineStyle: {color: '#b8b8b8', width: 1.2}, z: 1}, base));

  var redW = p.thick ? 2 : 1.1;
  p.red.forEach(function (band) {
    series.push(Object.assign({type: 'line', data: pts(band), smooth: 0.4, symbol: 'none',
      lineStyle: {color: RED, width: redW}, z: 2}, base));
  });
  if (p.dot) {
    p.dot.forEach(function (band, bi) {
      var w = p.w[bi];
      // weighted band: segment width follows the projected weight
      for (var i = 0; i < band.length - 1; i++) {
        series.push(Object.assign({type: 'line', symbol: 'none',
          data: [[kpts[i], band[i]], [kpts[i + 1], band[i + 1]]],
          lineStyle: {color: RED, width: (w[i] + w[i + 1]) * 0.85, cap: 'round'}, z: 2}, base));
      }
      series.push(Object.assign({type: 'scatter', clip: true,
        data: band.map(function (v, i) { return [kpts[i], v, w[i]]; }),
        symbolSize: function (d) { return d[2] * 2.1; },
        itemStyle: {color: RED, opacity: 1}, z: 3}, base));
    });
  }
  p.blue.forEach(function (band) {
    series.push(Object.assign({type: 'line', data: pts(band), smooth: 0.4, symbol: 'none',
      lineStyle: {color: BLUE, width: 3.4}, z: 4}, base));
  });
  if (p.dash) {
    p.dash.forEach(function (band) {
      series.push(Object.assign({type: 'line', data: pts(band), smooth: 0.4, symbol: 'none',
        lineStyle: {color: BLUE, width: 3.4, type: [3, 2.5]}, z: 4}, base));
    });
  }

  // compound name with subscript 2
  var cx = b[0] + b[2] / 2 + 2;
  var cy = b[1] + (p.yr[1] - 0.58) / (p.yr[1] - p.yr[0]) * b[3];
  var wm = textW(p.name, 16), ws = textW('2', 12);
  var x0 = cx - (wm + ws) / 2;
  graphics.push(txt(p.name, x0, cy, 16, 'left'));
  graphics.push(txt('2', x0 + wm, cy + 5, 12, 'left'));
});

graphics.push(txt('(a)', 181, 12, 20));
graphics.push(txt('(b)', 515, 12, 20));
graphics.push(txt('(c)', 181, 451, 20));
graphics.push(txt('(d)', 515, 452, 20));
graphics.push(txt('Energy (eV)', 9, 107, 16, 'center', Math.PI / 2));
graphics.push(txt('Energy (eV)', 9, 305, 16, 'center', Math.PI / 2));
graphics.push(txt('Energy (eV)', 9, 540, 16, 'center', Math.PI / 2));

var chart = echarts.init(document.getElementById('chart'));
chart.setOption({
  animation: false,
  backgroundColor: '#fff',
  grid: grids,
  xAxis: xAxes,
  yAxis: yAxes,
  series: series,
  graphic: graphics
});
</script>
</body>
</html>
